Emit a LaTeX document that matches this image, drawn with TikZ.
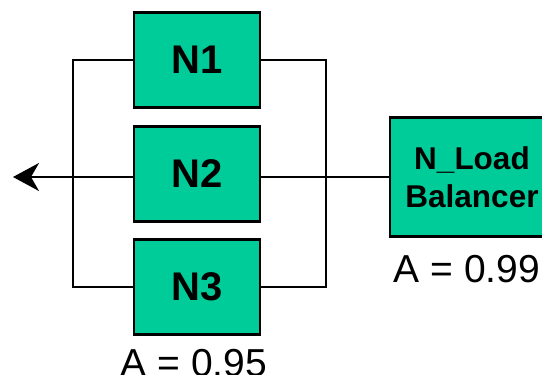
\documentclass[tikz,border=0pt]{standalone}
\usepackage{fontspec}
\setmainfont{Liberation Sans}
\usetikzlibrary{positioning,calc,arrows.meta}
\definecolor{nodeG}{RGB}{0,204,153}

\begin{document}
\begin{tikzpicture}[x=1pt,y=-1pt,line width=2.4pt,
  blk/.style={draw,fill=nodeG,minimum width=126pt,minimum height=95pt,
              inner sep=0,align=center,font=\fontsize{40}{48}\selectfont\bfseries},
  lbl/.style={anchor=base,inner sep=0,font=\fontsize{39}{47}\selectfont}]

  \useasboundingbox (0,0) rectangle (542,375);
  \clip (0,0) rectangle (542,375);

  % ---- redundant nodes ----
  \node[blk] (n1) at (197,60) {N1};
  \node[blk] (n2) at (197,174) {N2};
  \node[blk] (n3) at (197,287) {N3};
  \node[lbl] (a3) at (194,376) {A = 0.95};

  % ---- load balancer ----
  \node[blk,minimum width=164pt,minimum height=119pt,
        font=\fontsize{31.5}{38}\selectfont\bfseries] (lb) at (472,177) {N\_Load\\Balancer};
  \node[lbl] (alb) at (467,282) {A = 0.99};

  \coordinate (lbus) at (72.7,0);
  \coordinate (rbus) at (326,0);
  \coordinate (out) at (13,177);

  % ---- buses ----
  \draw (n1.west) -- (n1.west -| lbus) -- (n3.west -| lbus) -- (n3.west);
  \draw (n1.east) -- (n1.east -| rbus) -- (n3.east -| rbus) -- (n3.east);
  \draw (lb.west) -- (n2.east |- lb.west);
  \draw[-{Stealth[length=26pt,width=28pt,inset=8pt]}] (n2.west |- lb.west) -- (out);

\end{tikzpicture}
\end{document}
